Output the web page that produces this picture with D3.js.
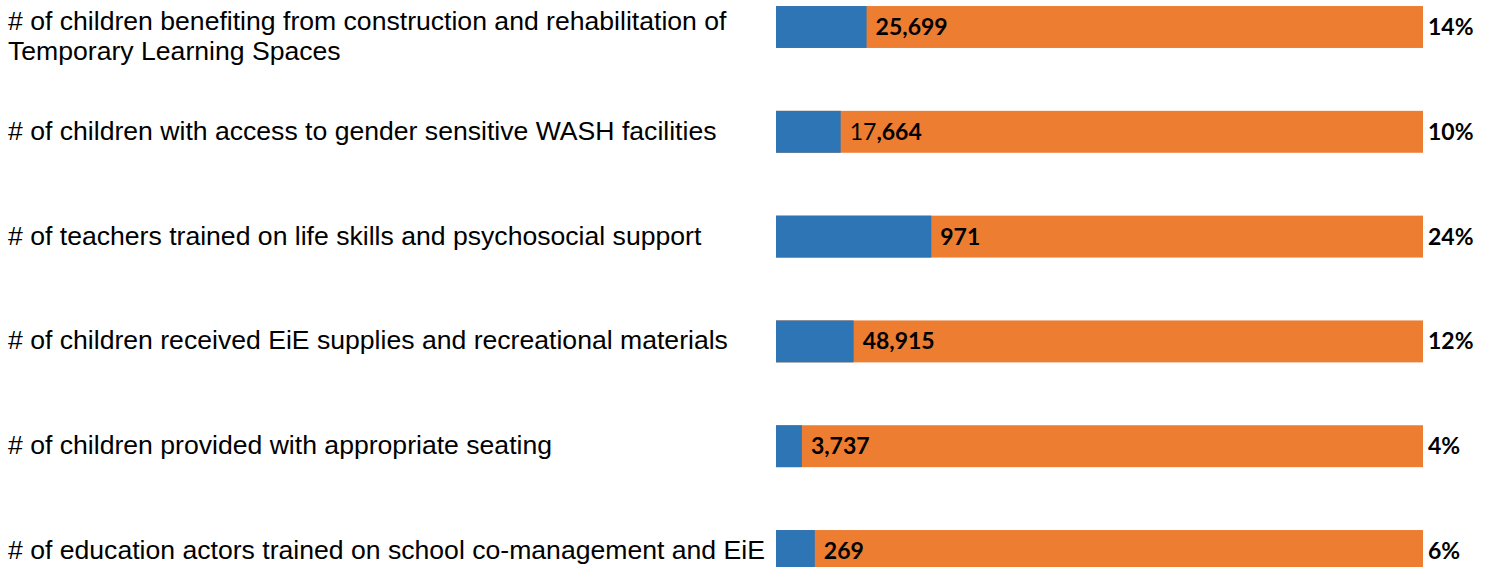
<!DOCTYPE html>
<html>
<head>
<meta charset="utf-8">
<script src="https://cdn.jsdelivr.net/npm/d3@7"></script>
<style>
  html, body { margin: 0; padding: 0; background: #fff; }
  svg { display: block; }
</style>
</head>
<body>
<div id="root"></div>
<script>
const indicators = [
  ['# of children benefiting from construction and rehabilitation of', 'Temporary Learning Spaces'],
  ['# of children with access to gender sensitive WASH facilities'],
  ['# of teachers trained on life skills and psychosocial support'],
  ['# of children received EiE supplies and recreational materials'],
  ['# of children provided with appropriate seating'],
  ['# of education actors trained on school co-management and EiE'],
];
const achieved = [25699, 17664, 971, 48915, 3737, 269];
const percentAchieved = [0.14, 0.10, 0.24, 0.12, 0.04, 0.06];
// leading characters of the value label that are not bold (as in the source)
const plainChars = [0, 2, 0, 0, 0, 0];

function drawChart() {
  const dimensions = { width: 1496, height: 567 };
  const rows = d3.range(indicators.length);

  const xScale = d3.scaleLinear().domain([0, 1]).range([776, 1423]);
  const yScale = d3
    .scaleBand()
    .domain(rows)
    .range([-25.4, 603.4])
    .paddingInner(0.6)
    .paddingOuter(0.3);

  const numberFormat = d3.format(',');
  const pctFormat = d3.format('.0%');

  const svg = d3
    .select('#root')
    .append('svg')
    .attr('width', dimensions.width)
    .attr('height', dimensions.height);

  const rowGroups = svg
    .selectAll('g.row')
    .data(rows)
    .join('g')
    .attr('class', 'row');

  rowGroups
    .append('rect')
    .attr('x', xScale(0))
    .attr('y', i => yScale(i))
    .attr('width', xScale(1) - xScale(0))
    .attr('height', yScale.bandwidth())
    .attr('fill', '#ED7D31');

  rowGroups
    .append('rect')
    .attr('x', xScale(0))
    .attr('y', i => yScale(i))
    .attr('width', i => xScale(percentAchieved[i]) - xScale(0))
    .attr('height', yScale.bandwidth())
    .attr('fill', '#2E75B6');

  const mid = i => yScale(i) + yScale.bandwidth() / 2;

  const valueText = rowGroups
    .append('text')
    .attr('x', i => xScale(percentAchieved[i]) + 9)
    .attr('y', i => mid(i) + 8)
    .attr('font-family', 'Lato, "Open Sans", sans-serif')
    .attr('font-size', 23)
    .attr('fill', '#000');

  valueText
    .append('tspan')
    .attr('font-weight', 'normal')
    .text(i => numberFormat(achieved[i]).slice(0, plainChars[i]));
  valueText
    .append('tspan')
    .attr('font-weight', 'bold')
    .text(i => numberFormat(achieved[i]).slice(plainChars[i]));

  rowGroups
    .append('text')
    .attr('x', xScale(1) + 5)
    .attr('y', i => mid(i) + 8)
    .attr('font-family', 'Lato, "Open Sans", sans-serif')
    .attr('font-size', 23)
    .attr('font-weight', 'bold')
    .attr('fill', '#000')
    .text(i => pctFormat(percentAchieved[i]));

  const labels = rowGroups
    .append('text')
    .attr('font-family', '"Liberation Sans", Arial, sans-serif')
    .attr('font-size', 26.6)
    .attr('fill', '#000');

  labels
    .selectAll('tspan')
    .data(i =>
      indicators[i].map((line, k) => ({ line, k, i, n: indicators[i].length }))
    )
    .join('tspan')
    .attr('x', 8)
    .attr('y', d =>
      d.n > 1 ? mid(d.i) + 3 + d.k * 30 : mid(d.i) + 8
    )
    .text(d => d.line);
}

drawChart();
</script>
</body>
</html>
